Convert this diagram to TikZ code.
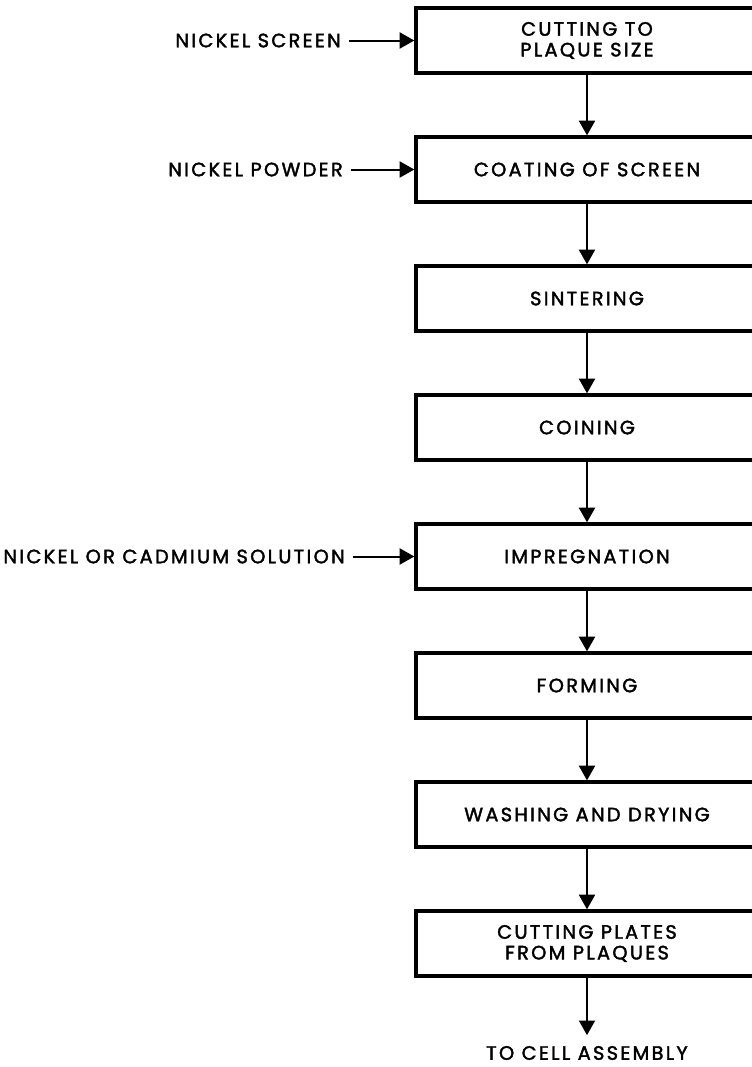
\documentclass[tikz,border=0pt]{standalone}
\usepackage{fontspec}
\setmainfont{Poppins}[LetterSpace=12,FakeBold=2]
\usetikzlibrary{arrows.meta,positioning}
\newcommand\chartfont{\fontsize{14.5}{15.5}\selectfont}

\begin{document}
\begin{tikzpicture}[x=0.75pt, y=-0.75pt,
    procbox/.style={draw, line width=2.5pt, minimum width=256.5pt,
        minimum height=48.75pt, align=center, inner sep=0pt, font=\chartfont},
    feed/.style={inner sep=0pt, font=\chartfont},
    flow/.style={line width=1.5pt, -{Triangle[width=12pt,length=11pt]}}]
    \useasboundingbox (0,0) rectangle (751,1067);
    % process steps
    \foreach \txt [count=\i] in {{CUTTING TO\\PLAQUE SIZE}, {COATING OF SCREEN},
        {SINTERING}, {COINING}, {IMPREGNATION}, {FORMING},
        {WASHING AND DRYING}, {CUTTING PLATES\\FROM PLAQUES}} {
        \node[procbox] (b\i) at (587,{40.5+129*(\i-1)}) {\txt};
    }
    \foreach \i [count=\j from 2] in {1,...,7} {
        \draw[flow] (b\i) -- (b\j);
    }
    % materials fed in
    \node[feed, anchor=east] (ni) at (341,40.5) {NICKEL SCREEN};
    \node[feed, anchor=east] (np) at (343,169.5) {NICKEL POWDER};
    \node[feed, anchor=east] (sol) at (345,556.5) {NICKEL OR CADMIUM SOLUTION};
    \draw[flow, shorten <=6pt] (ni) -- (b1);
    \draw[flow, shorten <=6pt] (np) -- (b2);
    \draw[flow, shorten <=6pt] (sol) -- (b5);
    % output
    \node[feed] (out) at (587,1053) {TO CELL ASSEMBLY};
    \draw[flow, shorten >=8pt] (b8) -- (out);
\end{tikzpicture}
\end{document}
